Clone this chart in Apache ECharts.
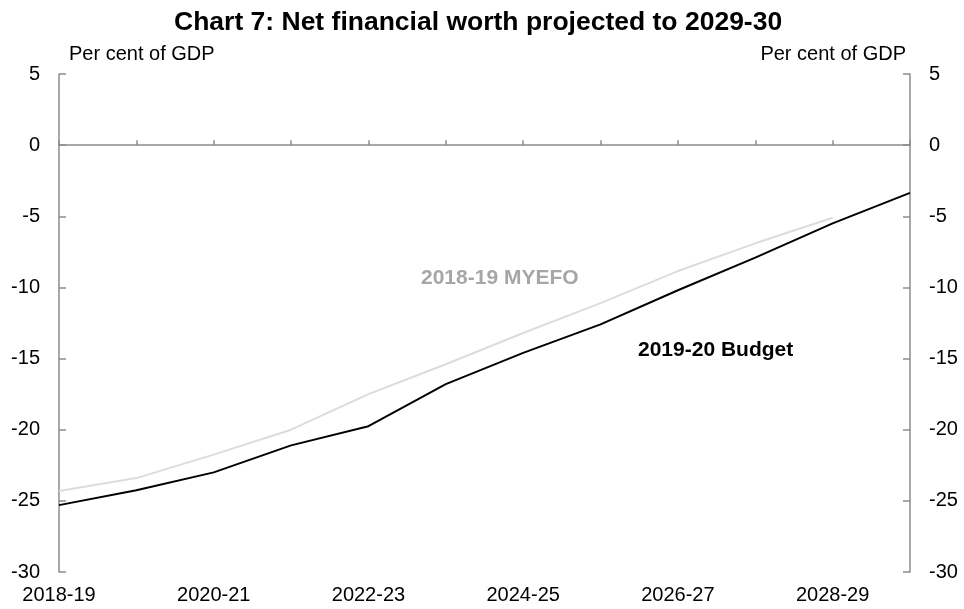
<!DOCTYPE html>
<html>
<head>
<meta charset="utf-8">
<script src="https://cdn.jsdelivr.net/npm/echarts@6/dist/echarts.min.js"></script>
<style>
  html, body { margin: 0; padding: 0; background: #fff; }
  #chart { width: 964px; height: 609px; }
</style>
</head>
<body>
<div id="chart"></div>
<script>
// financial years along the x axis
const years = ['2018-19', '2019-20', '2020-21', '2021-22', '2022-23', '2023-24',
  '2024-25', '2025-26', '2026-27', '2027-28', '2028-29', '2029-30']
// net financial worth, per cent of GDP
const budget = [-25.3, -24.25, -23.0, -21.1, -19.75, -16.8, -14.6, -12.6, -10.2, -7.9, -5.5, -3.35]
const myefo = [-24.3, -23.4, -21.75, -20.0, -17.5, -15.4, -13.2, -11.1, -8.85, -6.9, -5.1, null]
const yTicks = { min: -30, max: 5, step: 5 }

const font = 'Liberation Sans, Arial, sans-serif'
const axisGrey = '#8c8c8c'

const chart = echarts.init(document.getElementById('chart'))

const yAxisBase = {
  type: 'value',
  min: yTicks.min,
  max: yTicks.max,
  interval: yTicks.step,
  axisLine: { show: true, lineStyle: { color: axisGrey, width: 1.5 } },
  axisTick: { show: true, inside: true, length: 7, lineStyle: { color: axisGrey, width: 1.5 } },
  splitLine: { show: false },
  axisLabel: { color: '#000', fontSize: 20, fontFamily: font, margin: 19 },
  nameTextStyle: { color: '#000', fontSize: 20, fontFamily: font },
  name: 'Per cent of GDP',
  nameGap: 10
}

chart.setOption({
  animation: false,
  backgroundColor: '#fff',
  title: {
    text: 'Chart 7: Net financial worth projected to 2029-30',
    left: 169,
    top: 4,
    textStyle: { fontSize: 26.5, fontWeight: 'bold', color: '#000', fontFamily: font }
  },
  grid: { left: 59, right: 54, top: 74, bottom: 37, containLabel: false },
  xAxis: [{
    // zero line with ticks above it
    type: 'category',
    data: years,
    boundaryGap: false,
    axisLine: { show: true, onZero: true, lineStyle: { color: axisGrey, width: 1.5 } },
    axisTick: { show: true, inside: true, length: 5, lineStyle: { color: axisGrey, width: 1.5 } },
    axisLabel: { show: false },
    splitLine: { show: false }
  }, {
    // tick labels at the bottom
    type: 'category',
    data: years,
    boundaryGap: false,
    position: 'bottom',
    axisLine: { show: false, onZero: false },
    axisTick: { show: false },
    axisLabel: { color: '#000', fontSize: 20, fontFamily: font, interval: 1, margin: 13 },
    splitLine: { show: false }
  }, {
    // ticks below the zero line
    type: 'category',
    data: years,
    boundaryGap: false,
    axisLine: { show: false, onZero: true },
    axisTick: { show: true, inside: false, length: 5, lineStyle: { color: axisGrey, width: 1.5 } },
    axisLabel: { show: false },
    splitLine: { show: false }
  }],
  yAxis: [
    Object.assign({}, yAxisBase, {
      position: 'left',
      nameTextStyle: Object.assign({}, yAxisBase.nameTextStyle, { align: 'left', padding: [0, 0, 0, 10] })
    }),
    Object.assign({}, yAxisBase, {
      position: 'right',
      nameTextStyle: Object.assign({}, yAxisBase.nameTextStyle, { align: 'right', padding: [0, 4, 0, 0] })
    })
  ],
  series: [{
    name: '2018-19 MYEFO',
    type: 'line',
    data: myefo,
    showSymbol: false,
    symbol: 'none',
    lineStyle: { color: '#dcdcdc', width: 2 },
    z: 2
  }, {
    name: '2019-20 Budget',
    type: 'line',
    data: budget,
    showSymbol: false,
    symbol: 'none',
    lineStyle: { color: '#000', width: 2 },
    z: 3
  }],
  graphic: [{
    type: 'text',
    left: 421,
    top: 268,
    style: { text: '2018-19 MYEFO', fill: '#a6a6a6', font: 'bold 21px ' + font }
  }, {
    type: 'text',
    left: 638,
    top: 340,
    style: { text: '2019-20 Budget', fill: '#000', font: 'bold 21px ' + font }
  }]
})
</script>
</body>
</html>
